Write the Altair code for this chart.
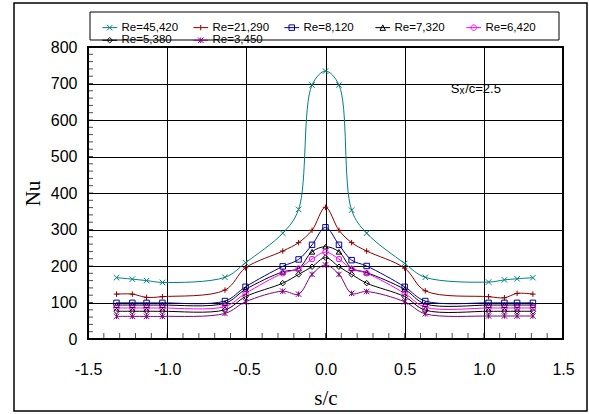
import altair as alt
import pandas as pd

# Measurement stations along the blade surface (s/c)
s_c = [-1.32, -1.22, -1.13, -1.03, -0.635, -0.505, -0.27, -0.17, -0.085, 0.0,
       0.085, 0.165, 0.26, 0.5, 0.63, 1.03, 1.13, 1.21, 1.31]

series = ["Re=45,420", "Re=21,290", "Re=8,120", "Re=7,320", "Re=6,420", "Re=5,380", "Re=3,450"]

nu_45420 = [168, 164, 160, 155, 169, 209, 290, 355, 696, 734, 696, 353, 290, 207, 169, 156, 162, 165, 168]
nu_21290 = [123, 123, 114, 116, 134, 195, 241, 264, 298, 361, 298, 264, 241, 194, 132, 116, 113, 125, 123]
nu_8120 = [99, 99, 99, 99, 104, 143, 199, 218, 258, 306, 258, 216, 200, 143, 104, 99, 99, 99, 99]
nu_7320 = [93, 93, 93, 93, 98, 136, 184, 193, 239, 253, 239, 194, 182, 136, 96, 93, 93, 93, 93]
nu_6420 = [85, 85, 85, 85, 89, 125, 180, 193, 219, 238, 219, 192, 180, 125, 87, 85, 85, 85, 85]
nu_5380 = [76, 76, 76, 76, 80, 116, 153, 177, 198, 223, 198, 177, 153, 116, 79, 76, 76, 76, 76]
nu_3450 = [62, 62, 62, 62, 70, 102, 131, 123, 177, 203, 177, 125, 130, 102, 69, 63, 63, 63, 63]

colors = ["#008080", "#8B0000", "#000099", "#000000", "#FF00FF", "#000000", "#800080"]

markers = [
    "M-1,-1L1,1M-1,1L1,-1",
    "M-1,0H1M0,-1V1",
    "square",
    "triangle-up",
    "circle",
    "diamond",
    "M-1,-1L1,1M-1,1L1,-1M0,-1V1",
]

# legend symbols: marker with a short line segment through it
seg = "M-2.7,0H2.7"
legend_symbols = [
    "M-1,-1L1,1M-1,1L1,-1" + seg,
    "M0,-1V1" + seg,
    "M-1,-1H1V1H-1Z" + seg,
    "M0,-1L1,1H-1Z" + seg,
    "M-1,0A1,1 0 1,0 1,0A1,1 0 1,0 -1,0" + seg,
    "M0,-1L1,0L0,1L-1,0Z" + seg,
    "M-1,-1L1,1M-1,1L1,-1M0,-1V1" + seg,
]

y_minor = [v for v in range(0, 801, 20)]
x_minor = [-1.5, -1.4, -1.3, -1.2, -1.1, -1.0, -0.9, -0.8, -0.7, -0.6, -0.5, -0.4, -0.3, -0.2, -0.1, 0.0,
           0.1, 0.2, 0.3, 0.4, 0.5, 0.6, 0.7, 0.8, 0.9, 1.0, 1.1, 1.2, 1.3, 1.4, 1.5]

all_values = [nu_45420, nu_21290, nu_8120, nu_7320, nu_6420, nu_5380, nu_3450]
rows = []
for name, vals in zip(series, all_values):
    for s, v in zip(s_c, vals):
        rows.append({"series": name, "s": s, "Nu": v})
df = pd.DataFrame(rows)

SANS = "Liberation Sans"
SERIF = "Liberation Serif"

W, H = 475, 292

x_scale = alt.Scale(domain=[-1.5, 1.5], nice=False, zero=False)
y_scale = alt.Scale(domain=[0, 800], nice=False)

x_axis = alt.Axis(
    values=[-1.5, -1.0, -0.5, 0.0, 0.5, 1.0, 1.5],
    labelExpr="(datum.value < 0 ? '-' : '') + format(abs(datum.value), '.1f')",
    grid=True, gridColor="#000000", gridWidth=1, gridOpacity=1,
    ticks=False, tickSize=0, domain=False,
    labelFont=SANS, labelFontSize=16, labelColor="#000000",
    labelBaseline="middle", labelPadding=30, labelFlush=False,
    title="s/c", titleFont=SERIF, titleFontSize=21, titleFontWeight="normal",
    titleColor="#000000", titleY=59, titleBaseline="middle",
)
y_axis = alt.Axis(
    values=[0, 100, 200, 300, 400, 500, 600, 700, 800], format="d",
    grid=True, gridColor="#000000", gridWidth=1, gridOpacity=1,
    ticks=False, tickSize=0, domain=False,
    labelFont=SANS, labelFontSize=16, labelColor="#000000",
    labelPadding=11, labelFlush=False,
    title="Nu", titleFont=SERIF, titleFontSize=21, titleFontWeight="normal",
    titleColor="#000000", titleX=-55, titleY=H / 2, titleAngle=270,
    titleAlign="center", titleBaseline="middle",
)

X = lambda f: alt.X(f, scale=x_scale, axis=x_axis)
Y = lambda f: alt.Y(f, scale=y_scale, axis=y_axis)

one = pd.DataFrame({"k": [0]})

# outer border around the whole figure
frame = alt.Chart(one).mark_rect(fillOpacity=0, stroke="#000000", strokeWidth=1.5).encode(
    x=alt.value(-74), x2=alt.value(499), y=alt.value(-44), y2=alt.value(364)
)
# legend box
legend_box = alt.Chart(one).mark_rect(fill="#ffffff", stroke="#000000", strokeWidth=1).encode(
    x=alt.value(2), x2=alt.value(471), y=alt.value(-35), y2=alt.value(-7)
)

lines = alt.Chart(df).mark_line(interpolate="catmull-rom", strokeWidth=1).encode(
    x=X("s:Q"),
    y=Y("Nu:Q"),
    color=alt.Color("series:N", scale=alt.Scale(domain=series, range=colors), legend=None),
)

points = alt.Chart(df).mark_point(filled=False, size=30, strokeWidth=1, opacity=1).encode(
    x=X("s:Q"),
    y=Y("Nu:Q"),
    color=alt.Color("series:N", scale=alt.Scale(domain=series, range=colors), legend=None),
    shape=alt.Shape("series:N", scale=alt.Scale(domain=series, range=markers), legend=None),
)

minor_y = alt.Chart(pd.DataFrame({"Nu": y_minor})).mark_tick(
    orient="horizontal", size=5, thickness=1, color="#000000"
).encode(y=Y("Nu:Q"), x=alt.value(2.5))

minor_x = alt.Chart(pd.DataFrame({"s": x_minor})).mark_tick(
    orient="vertical", size=6, thickness=1, color="#000000"
).encode(x=X("s:Q"), y=alt.value(H - 3))

leg_df = pd.DataFrame({"label": series})
legend_layer = alt.Chart(leg_df).transform_filter("false").mark_point(
    filled=False, strokeWidth=1, opacity=1
).encode(
    color=alt.Color("label:N", scale=alt.Scale(domain=series, range=colors), legend=alt.Legend(title=None)),
    shape=alt.Shape("label:N", scale=alt.Scale(domain=series, range=legend_symbols), legend=alt.Legend(title=None)),
)

# S_x/c annotation
def note(s, nu, text, size):
    return alt.Chart(pd.DataFrame({"s": [s], "Nu": [nu], "t": [text]})).mark_text(
        align="left", baseline="alphabetic", font=SANS, fontSize=size, color="#000000"
    ).encode(x=X("s:Q"), y=Y("Nu:Q"), text="t:N")

ann_main = note(0.791, 675, "S", 13)
ann_sub = note(0.847, 671, "x", 10)
ann_rest = note(0.882, 675, "/c=2.5", 13)

chart = alt.layer(
    frame, legend_box, lines, points, minor_y, minor_x, ann_main, ann_sub, ann_rest, legend_layer
).resolve_scale(
    color="independent", shape="independent"
).properties(
    width=W, height=H,
    autosize=alt.AutoSizeParams(type="none"),
    padding={"left": 88, "top": 47, "right": 26, "bottom": 75},
    background="#ffffff",
).configure_view(
    stroke="#000000", strokeWidth=2
).configure_legend(
    orient="none", legendX=16, legendY=-25.5, direction="horizontal", columns=5,
    gridAlign="all", padding=0, columnPadding=12, rowPadding=0,
    symbolSize=30, symbolStrokeWidth=1, labelOffset=6,
    labelFont=SANS, labelFontSize=11.5, labelColor="#000000", labelLimit=0,
)

chart.save("out.html", embed_options={"renderer": "svg", "actions": False})
